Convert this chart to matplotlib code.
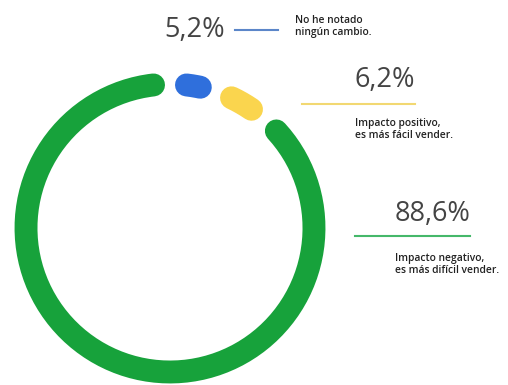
import numpy as np
import matplotlib.pyplot as plt

# survey shares (%), clockwise from the top of the ring
shares = [5.2, 6.2, 88.6]
pct_labels = ['5,2%', '6,2%', '88,6%']
descriptions = ['No he notado\nningún cambio.',
                'Impacto positivo,\nes más fácil vender.',
                'Impacto negativo,\nes más difícil vender.']
ring_colors = ['#2f6fdc', '#fad54e', '#17a23b']
rule_colors = ['#5b86c9', '#f2d872', '#45b86a']

fig = plt.figure(figsize=(5.08, 3.85), dpi=100)
ax = fig.add_axes([0, 0, 1, 1])
ax.set_xlim(0, 508)
ax.set_ylim(385, 0)
ax.set_aspect('equal')
ax.axis('off')

cx, cy, r = 170, 228, 144
cap = 11.5 + 5  # half stroke + half gap, in px
shrink = np.degrees(cap / r)

start = 0.0
for share, col in zip(shares, ring_colors):
    span = share / 100 * 360
    th = np.radians(np.linspace(start + shrink, start + span - shrink, 200))
    ax.plot(cx + r * np.sin(th), cy - r * np.cos(th), color=col,
            lw=16.5, solid_capstyle='round')
    start += span

big = dict(fontsize=19.5, color='#444444', family='Open Sans',
           va='center')
small = dict(fontsize=7.4, color='#222222', family='Open Sans',
             fontweight='semibold', va='top', linespacing=1.1)

# 5,2% - label on the left of the rule, note on the right
ax.text(225, 30, pct_labels[0], ha='right', **big)
ax.plot([235, 278], [30, 30], color=rule_colors[0], lw=1.5)
ax.text(295, 15, descriptions[0], ha='left', **small)

# 6,2%
ax.text(415, 80, pct_labels[1], ha='right', **big)
ax.plot([302, 415], [104, 104], color=rule_colors[1], lw=1.5)
ax.text(355, 118, descriptions[1], ha='left', **small)

# 88,6%
ax.text(470, 214, pct_labels[2], ha='right', **big)
ax.plot([355, 470], [236, 236], color=rule_colors[2], lw=1.5)
ax.text(395, 253, descriptions[2], ha='left', **small)

fig.savefig('out.png', dpi=100)
